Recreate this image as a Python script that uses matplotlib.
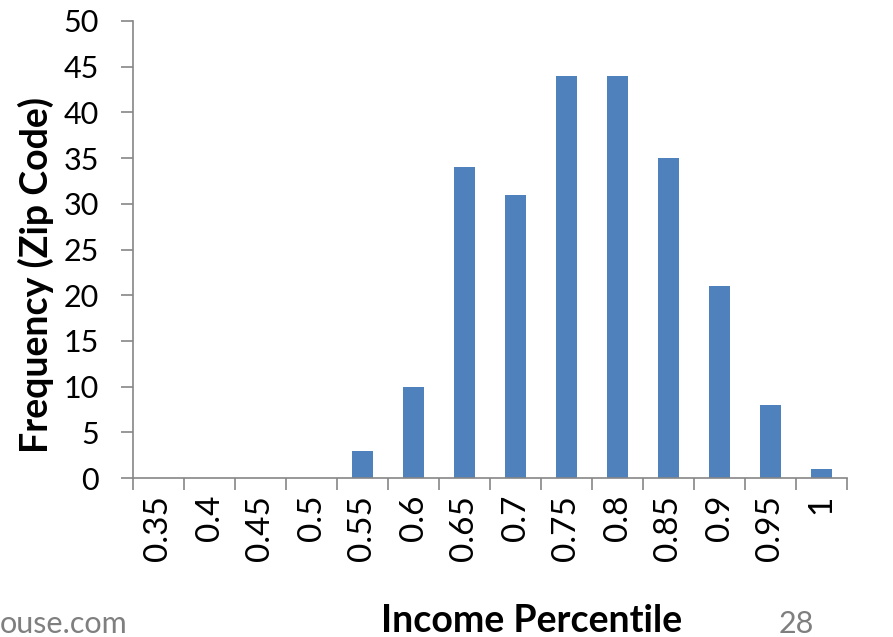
import numpy as np
import matplotlib
matplotlib.use("Agg")
import matplotlib.pyplot as plt

# data
percentiles = ['0.35', '0.4', '0.45', '0.5', '0.55', '0.6', '0.65',
               '0.7', '0.75', '0.8', '0.85', '0.9', '0.95', '1']
frequency = [0, 0, 0, 0, 3, 10, 34, 31, 44, 44, 35, 21, 8, 1]
y_ticks = list(range(0, 55, 5))

plt.rcParams['font.family'] = ['Lato', 'DejaVu Sans']

fig = plt.figure(figsize=(8.93, 6.37), dpi=100)
ax = fig.add_axes([133 / 893, 1 - 478 / 637, (847 - 133) / 893, (478 - 21) / 637])

x = np.arange(len(percentiles))
ax.bar(x, frequency, width=0.4, color='#4F81BD', zorder=2)

ax.set_xlim(-0.5, len(percentiles) - 0.5)
ax.set_ylim(0, 50)
ax.set_yticks(y_ticks)
ax.set_yticklabels([str(v) for v in y_ticks], fontsize=22)

# labels at the centres, tick marks at the boundaries
ax.set_xticks(x)
ax.set_xticklabels(percentiles, rotation=90, fontsize=24, va='top')
ax.set_xticks(np.arange(len(percentiles) + 1) - 0.5, minor=True)
ax.tick_params(axis='x', which='major', length=0, pad=12)
ax.tick_params(axis='x', which='minor', length=8.5, width=1.2, color='#868686', direction='out')
ax.tick_params(axis='y', length=8.5, width=1.2, color='#868686', pad=16)

for side in ['top', 'right']:
    ax.spines[side].set_visible(False)
for side in ['left', 'bottom']:
    ax.spines[side].set_color('#868686')
    ax.spines[side].set_linewidth(1.2)

fig.text(36 / 893, 1 - 275 / 637, 'Frequency (Zip Code)', rotation=90,
         ha='center', va='center', fontsize=27, fontweight='bold')
fig.text(532 / 893, 1 - 621 / 637, 'Income Percentile',
         ha='center', va='center', fontsize=27, fontweight='bold')
fig.text(0, 1 - 624 / 637, 'ouse.com', ha='left', va='center',
         fontsize=22, color='#7F7F7F')
fig.text(796 / 893, 1 - 624 / 637, '28', ha='center', va='center',
         fontsize=22, color='#7F7F7F')

fig.savefig('out.png', dpi=100)
